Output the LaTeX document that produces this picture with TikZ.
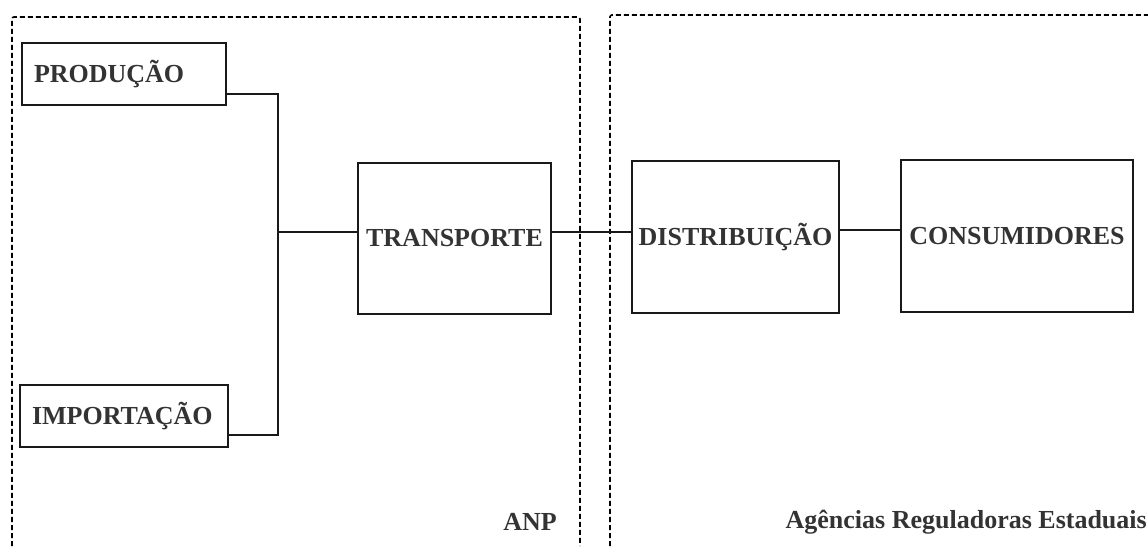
\documentclass[tikz,border=0pt]{standalone}
\usepackage{fontspec}
\setmainfont{Liberation Serif}
\begin{document}
\begin{tikzpicture}[x=1pt,y=1pt,
  box/.style={draw=black!90, line width=1.8pt, inner sep=0pt, font=\fontsize{26}{30}\selectfont\bfseries, text=black!80},
  lbox/.style={box, text width=#1, align=left, inner xsep=12pt},
  region/.style={draw=black, line width=1.6pt, dash pattern=on 5pt off 3pt, rounded corners=2pt},
  conn/.style={draw=black!90, line width=1.9pt},
  lab/.style={font=\fontsize{26}{30}\selectfont\bfseries, text=black!80, inner sep=0pt}]
\useasboundingbox (0,0) rectangle (1148,546);
% regions
\draw[region] (12,0) -- (12,529) -- (580,529) -- (580,0);
\draw[region] (610,0) -- (610,531) -- (1150,531);
% nodes
\node[lbox=180pt, minimum height=62pt] (prod) at (124,472) {PRODUÇÃO};
\node[lbox=184pt, minimum height=62pt] (imp) at (124,130) {IMPORTAÇÃO};
\node[box, minimum width=193pt, minimum height=151pt] (trans) at (454.5,307.5) {TRANSPORTE};
\node[box, minimum width=207pt, minimum height=152pt] (dist) at (735.5,309) {DISTRIBUIÇÃO};
\node[box, minimum width=232pt, minimum height=152pt] (cons) at (1017,310) {CONSUMIDORES};
\node[lab] (anp) at (530,24) {ANP};
\node[lab, anchor=east] (age) at (1147,24) {Agências Reguladoras Estaduais};
% connectors
\coordinate (jx) at (278,314);
\coordinate (pa) at ([yshift=12pt]prod.south east);
\coordinate (ia) at ([yshift=13pt]imp.south east);
\draw[conn] (pa) -| (jx) |- (ia);
\draw[conn] (jx) -- (jx -| trans.west);
\draw[conn] (trans.east |- jx) -- (dist.west |- jx);
\draw[conn] ([yshift=7pt]dist.east) -- ([yshift=7pt]dist.east -| cons.west);
\end{tikzpicture}
\end{document}
